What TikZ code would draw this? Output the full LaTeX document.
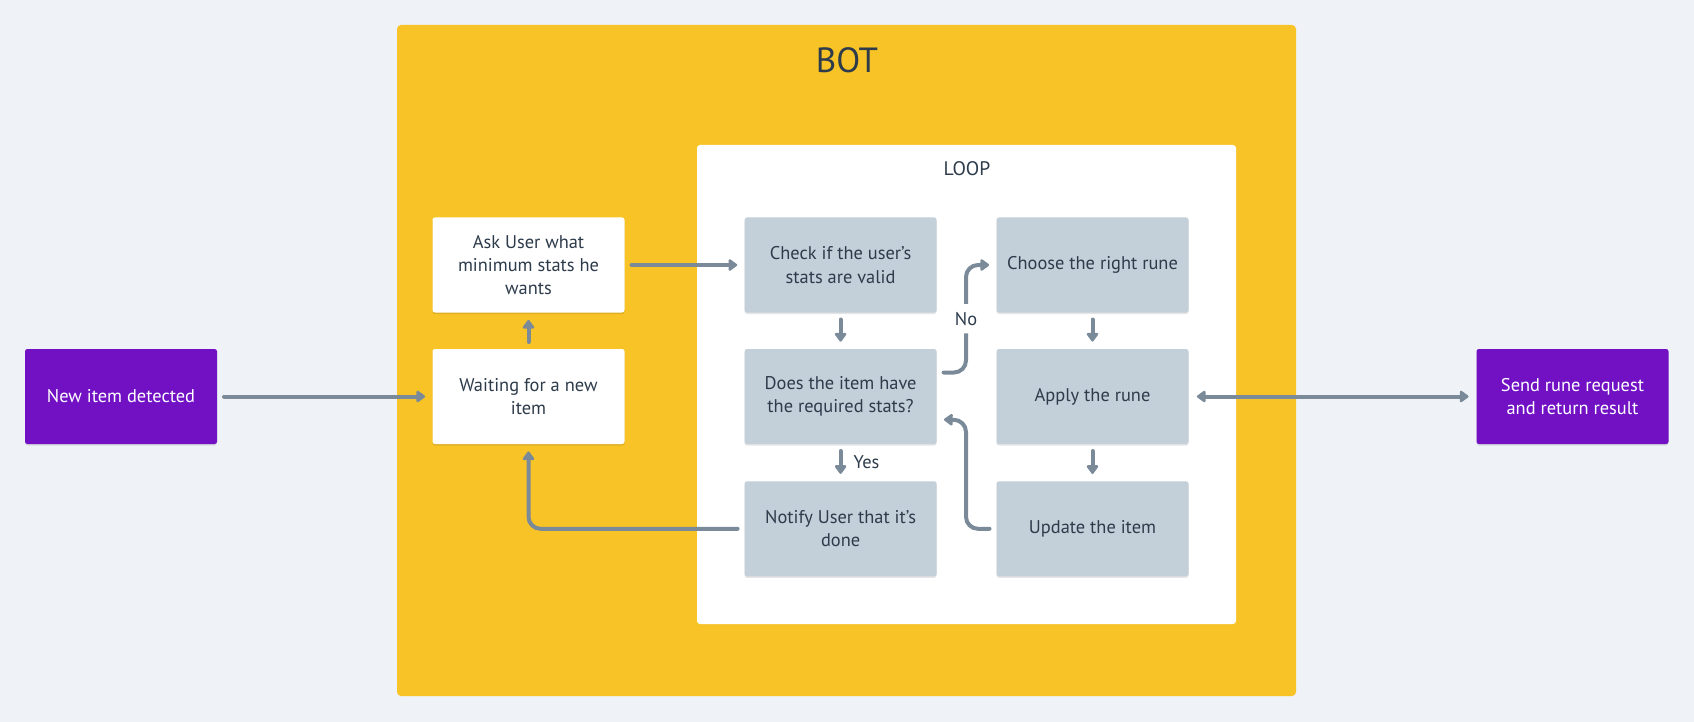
\documentclass[tikz,border=0pt]{standalone}
\usepackage{fontspec}
\setmainfont{PT Sans}
\usetikzlibrary{arrows.meta,shadows}
\definecolor{bgc}{HTML}{EFF3F7}
\definecolor{botc}{HTML}{F8C326}
\definecolor{purp}{HTML}{7210C4}
\definecolor{greybox}{HTML}{C3D0DA}
\definecolor{arrowc}{HTML}{7A8A99}
\definecolor{txtc}{HTML}{2D3B4B}
\tikzset{
  box/.style={rectangle, rounded corners=1.2pt, minimum width=96pt, minimum height=47.5pt,
    align=center, font=\fontsize{9.2}{11.7}\selectfont, text=txtc, inner sep=0pt,
    drop shadow={shadow xshift=0pt, shadow yshift=-0.8pt, opacity=0.10, fill=black}},
  whitebox/.style={box, fill=white},
  greyb/.style={box, fill=greybox},
  purpbox/.style={box, fill=purp, text=white},
  conn/.style={draw=arrowc, line width=2pt, line cap=round, rounded corners=6pt,
    -{Triangle[length=4.8pt,width=6.6pt,round]}, shorten <=3.3pt, shorten >=3.5pt},
  dconn/.style={conn, {Triangle[length=4.8pt,width=6.6pt,round]}-{Triangle[length=4.8pt,width=6.6pt,round]}},
  lbl/.style={font=\fontsize{9.2}{11.7}\selectfont, text=txtc, inner sep=0pt},
}
\begin{document}
\begin{tikzpicture}[x=0.5pt,y=-0.5pt]
\useasboundingbox (0,0) rectangle (1694,722);
\fill[bgc] (0,0) rectangle (1694,722);
% containers
\fill[botc, rounded corners=2pt] (397,25) rectangle (1296,696);
\node[font=\fontsize{17.5}{20}\selectfont, text=txtc] (bottitle) at (847,60.5) {BOT};
\fill[white, rounded corners=1.5pt] (697,145) rectangle (1236,624);
\node[lbl, font=\fontsize{9.8}{12}\selectfont] (looptitle) at (967,168.5) {LOOP};
% nodes
\node[purpbox] (new) at (121,396.5) {New item detected};
\node[whitebox] (ask) at (528.5,265) {Ask User what\\minimum stats he\\wants};
\node[whitebox] (wait) at (528.5,396.5) {Waiting for a new\\item};
\node[greyb] (check) at (840.6,265) {Check if the user's\\stats are valid};
\node[greyb] (does) at (840.6,396.5) {Does the item have\\the required stats?};
\node[greyb] (notify) at (840.6,528.8) {Notify User that it's\\done};
\node[greyb] (choose) at (1092.5,265) {Choose the right rune};
\node[greyb] (apply) at (1092.5,396.5) {Apply the rune};
\node[greyb] (update) at (1092.5,528.8) {Update the item};
\node[purpbox] (send) at (1572.5,396.5) {Send rune request\\and return result};
\coordinate (midx) at (966,0);
% connectors
\draw[conn] (new) -- (wait);
\draw[conn] (wait) -- (ask);
\draw[conn] (ask) -- (check);
\draw[conn] (check) -- (does);
\draw[conn] (does) -- node[lbl, anchor=west, xshift=5.5pt] (yes) {Yes} (notify);
\draw[conn] (notify.west) -| (wait.south);
\draw[conn] ([yshift=12pt]does.east) -| node[pos=0.75, lbl, fill=white, inner xsep=1pt, inner ysep=4pt] (no) {No} (midx |- choose.west) -- (choose.west);
\draw[conn] (update.west) -| (midx |- 420,420) -- ([yshift=-11.5pt]does.east);
\draw[conn] (choose) -- (apply);
\draw[conn] (apply) -- (update);
\draw[dconn, shorten <=4pt, shorten >=3.8pt] (apply) -- (send);
\end{tikzpicture}
\end{document}
